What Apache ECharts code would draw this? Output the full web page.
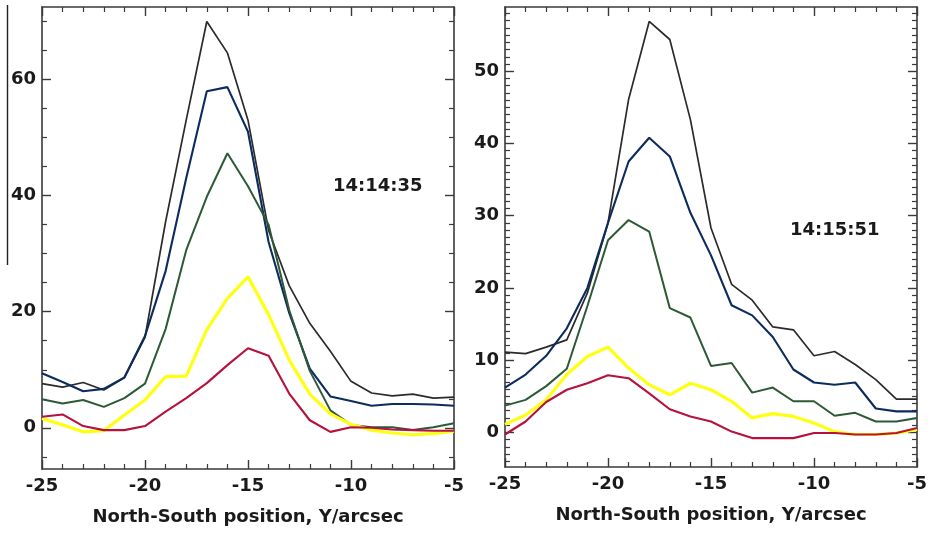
<!DOCTYPE html>
<html>
<head>
<meta charset="utf-8">
<script src="https://cdn.jsdelivr.net/npm/echarts@6/dist/echarts.min.js"></script>
<style>
  html, body { margin: 0; padding: 0; background: #fff; }
  #chart { width: 931px; height: 534px; }
</style>
</head>
<body>
<div id="chart"></div>
<script>
// North-South positions (arcsec) shared by both profiles
const positions = [-25, -24, -23, -22, -21, -20, -19, -18, -17, -16, -15, -14, -13, -12, -11, -10, -9, -8, -7, -6, -5];

// Profiles at 14:14:35
const leftBlack  = [7.6, 7.0, 7.8, 6.5, 8.6, 15.6, 35.5, 53.0, 70.0, 64.6, 53.0, 34.0, 24.5, 18.0, 13.2, 8.0, 6.0, 5.5, 5.8, 5.1, 5.3];
const leftBlue   = [9.4, 7.9, 6.3, 6.7, 8.7, 15.8, 27.0, 43.0, 58.0, 58.7, 51.0, 32.0, 19.8, 10.2, 5.4, 4.6, 3.8, 4.1, 4.1, 4.0, 3.8];
const leftGreen  = [4.9, 4.2, 4.8, 3.6, 5.1, 7.6, 17.0, 30.6, 39.8, 47.3, 41.6, 35.0, 20.3, 9.8, 3.0, 0.5, 0.1, 0.1, -0.4, 0.1, 0.8];
const leftYellow = [1.6, 0.5, -0.7, -0.5, 2.2, 4.8, 8.8, 8.9, 16.9, 22.3, 26.0, 19.5, 11.7, 5.8, 2.4, 0.6, -0.4, -0.9, -1.2, -1.0, -0.6];
const leftRed    = [1.9, 2.3, 0.3, -0.4, -0.4, 0.3, 2.8, 5.1, 7.7, 10.8, 13.7, 12.4, 5.9, 1.3, -0.7, 0.1, 0.0, -0.3, -0.4, -0.5, -0.5];

// Profiles at 14:15:51
const rightBlack  = [11.1, 10.9, 11.8, 12.8, 19.3, 29.0, 46.1, 56.9, 54.4, 43.3, 28.3, 20.5, 18.3, 14.6, 14.2, 10.6, 11.2, 9.4, 7.3, 4.6, 4.6];
const rightBlue   = [6.2, 8.0, 10.6, 14.4, 20.0, 29.0, 37.5, 40.8, 38.2, 30.4, 24.5, 17.6, 16.2, 13.2, 8.7, 6.9, 6.6, 6.9, 3.3, 2.9, 2.9];
const rightGreen  = [3.7, 4.5, 6.4, 8.8, 17.5, 26.6, 29.4, 27.8, 17.2, 15.9, 9.2, 9.6, 5.5, 6.2, 4.3, 4.3, 2.3, 2.7, 1.5, 1.5, 2.0];
const rightYellow = [1.1, 2.4, 4.5, 8.0, 10.5, 11.8, 8.9, 6.6, 5.2, 6.8, 5.9, 4.3, 2.0, 2.6, 2.2, 1.3, 0.1, -0.3, -0.3, -0.1, 0.4];
const rightRed    = [-0.3, 1.5, 4.2, 5.9, 6.8, 7.9, 7.5, 5.4, 3.2, 2.2, 1.5, 0.1, -0.8, -0.8, -0.8, -0.1, -0.1, -0.3, -0.3, -0.1, 0.6];

// Axis tick labels
const xTickLabels = [-25, -20, -15, -10, -5];
const leftYTicks = [0, 20, 40, 60];
const rightYTicks = [0, 10, 20, 30, 40, 50];
const timeLabels = ['14:14:35', '14:15:51'];
const xAxisTitle = 'North-South position, Y/arcsec';

const FONT = "'DejaVu Sans', Arial, sans-serif";
const FRAME = '#3a3a3a';
const TEXT = '#1a1a1a';

function range(a, b, step) {
  const out = [];
  for (let v = a; v <= b + 1e-9; v += step) out.push(Math.round(v * 100) / 100);
  return out;
}

const leftMinor = range(-5, 70, 5).filter(v => leftYTicks.indexOf(v) < 0);
const rightMinor = range(-4, 58, 1).filter(v => rightYTicks.indexOf(v) < 0);

const grids = [
  { left: 42, top: 7, width: 412, height: 462 },
  { left: 505, top: 7, width: 412, height: 460 }
];

const xAxes = [];
const yAxes = [];
[0, 1].forEach(g => {
  const base = {
    type: 'value', gridIndex: g, min: -25, max: -5, interval: 5,
    splitLine: { show: false },
    axisLine: { show: true, onZero: false, lineStyle: { color: FRAME, width: 1.6 } },
    axisTick: { show: true, inside: true, length: 9, lineStyle: { color: FRAME, width: 1.4 } },
    minorTick: { show: true, splitNumber: 5, length: 5, lineStyle: { color: FRAME, width: 1.2 } }
  };
  xAxes.push(Object.assign({}, base, {
    position: 'bottom',
    axisLabel: { show: true, fontFamily: FONT, fontWeight: 'bold', fontSize: 18, color: TEXT, margin: 8,
                 customValues: xTickLabels },
    name: xAxisTitle, nameLocation: 'middle', nameGap: 39,
    nameTextStyle: { fontFamily: FONT, fontWeight: 'bold', fontSize: 18, color: TEXT }
  }));
  xAxes.push(Object.assign({}, base, { position: 'top', axisLabel: { show: false } }));
});

function yPair(g, min, max, majors, minors, side, labels) {
  yAxes.push({
    type: 'value', gridIndex: g, min: min, max: max, position: side,
    splitLine: { show: false },
    axisLine: { show: true, onZero: false, lineStyle: { color: FRAME, width: 1.6 } },
    axisTick: { show: true, inside: true, length: 9, customValues: majors,
                lineStyle: { color: FRAME, width: 1.4 } },
    axisLabel: labels
      ? { show: true, customValues: majors, fontFamily: FONT, fontWeight: 'bold', fontSize: 18, color: TEXT, margin: 6 }
      : { show: false }
  });
  yAxes.push({
    type: 'value', gridIndex: g, min: min, max: max, position: side,
    splitLine: { show: false },
    axisLine: { show: false },
    axisTick: { show: true, inside: true, length: 5, customValues: minors,
                lineStyle: { color: FRAME, width: 1.2 } },
    axisLabel: { show: false }
  });
}
yPair(0, -7.1, 72.5, leftYTicks, leftMinor, 'left', true);
yPair(0, -7.1, 72.5, leftYTicks, leftMinor, 'right', false);
yPair(1, -4.8, 58.9, rightYTicks, rightMinor, 'left', true);
yPair(1, -4.8, 58.9, rightYTicks, rightMinor, 'right', false);

const styles = [
  { color: '#2b2b2b', width: 1.7 },
  { color: '#0c2c5e', width: 2.1 },
  { color: '#2c5a36', width: 2.0 },
  { color: '#ffff14', width: 3.2 },
  { color: '#b5123e', width: 2.1 }
];
const panels = [
  [leftBlack, leftBlue, leftGreen, leftYellow, leftRed],
  [rightBlack, rightBlue, rightGreen, rightYellow, rightRed]
];

const series = [];
panels.forEach((sets, g) => {
  sets.forEach((vals, i) => {
    series.push({
      type: 'line', xAxisIndex: g * 2, yAxisIndex: g * 4,
      data: positions.map((p, k) => [p, vals[k]]),
      showSymbol: false, symbol: 'none', silent: true, animation: false,
      lineStyle: { color: styles[i].color, width: styles[i].width },
      z: 2 + i
    });
  });
});

const chart = echarts.init(document.getElementById('chart'), null, { renderer: 'canvas' });
chart.setOption({
  backgroundColor: '#ffffff',
  animation: false,
  grid: grids,
  xAxis: xAxes,
  yAxis: yAxes,
  series: series,
  graphic: [
    { type: 'line', shape: { x1: 7.5, y1: 5, x2: 7.5, y2: 265 },
      style: { stroke: '#222', lineWidth: 1.4 } },
    { type: 'text', left: 333, top: 177,
      style: { text: timeLabels[0], font: 'bold 18px ' + FONT, fill: TEXT } },
    { type: 'text', left: 790, top: 221,
      style: { text: timeLabels[1], font: 'bold 18px ' + FONT, fill: TEXT } }
  ]
});
</script>
</body>
</html>
